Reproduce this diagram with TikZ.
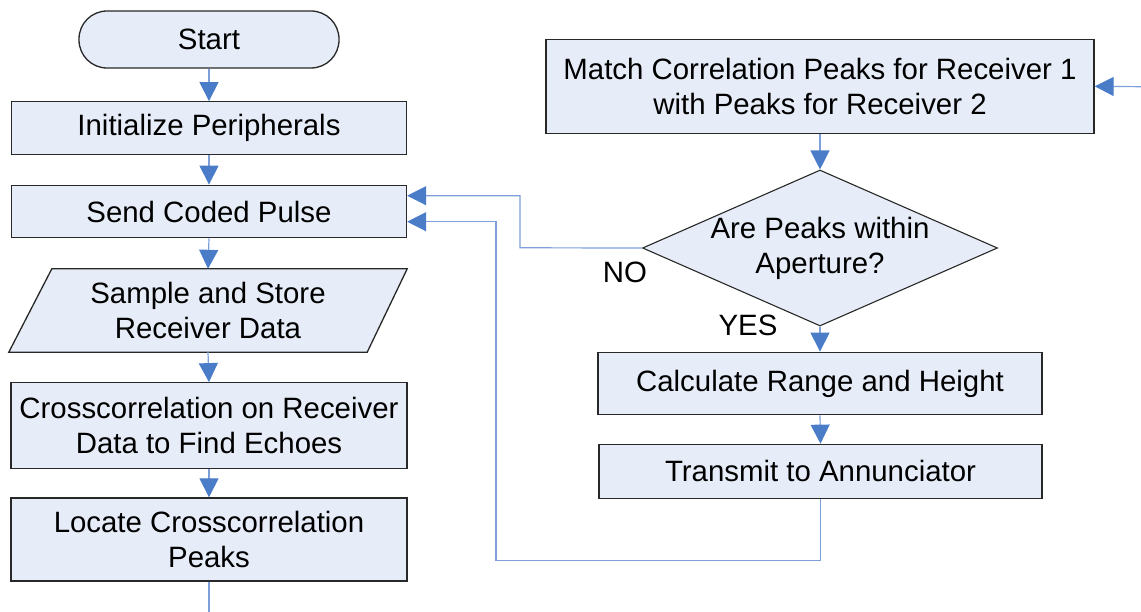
\documentclass[tikz,border=0pt]{standalone}
\usepackage{fontspec}
\setmainfont{Liberation Sans}
\usetikzlibrary{arrows.meta,shapes.geometric,backgrounds}
\definecolor{boxfill}{RGB}{231,237,248}
\definecolor{boxline}{RGB}{40,40,40}
\definecolor{connline}{RGB}{125,160,218}
\definecolor{arrowfill}{RGB}{74,124,200}
\begin{document}
\begin{tikzpicture}[x=1pt,y=-1pt,
  every node/.style={font=\fontsize{29.4}{35}\selectfont},
  procbox/.style={draw=boxline, fill=boxfill, line width=1.3pt, inner sep=0pt, align=center},
  termbox/.style={procbox, rounded corners=28pt},
  iobox/.style={inner sep=0pt, align=center},
  ioshape/.style={draw=boxline, fill=boxfill, line width=1.3pt},
  decbox/.style={draw=boxline, fill=boxfill, line width=1.1pt, diamond, inner sep=0pt},
  conn/.style={draw=connline, line width=1.2pt},
  arr/.style={conn, -{Triangle[length=19pt,width=19pt,color=arrowfill]}},
  lbl/.style={inner sep=0pt, align=center}]
\useasboundingbox (0,0) rectangle (1141,612);
% left column
\node[termbox, minimum width=260pt, minimum height=57pt] (start) at (209,39.5) {Start};
\node[procbox, minimum width=395pt, minimum height=52.5pt] (init) at (209,128) {Initialize Peripherals};
\node[procbox, minimum width=395pt, minimum height=52.5pt] (send) at (209,211.5) {Send Coded Pulse};
\node[iobox, minimum width=398pt, minimum height=83pt] (sample) at (208,310.5) {Sample and Store\\Receiver Data};
\begin{scope}[on background layer]
\draw[ioshape] ([xshift=43pt]sample.north west) -- (sample.north east) -- ([xshift=-40pt]sample.south east) -- (sample.south west) -- cycle;
\end{scope}
\node[procbox, minimum width=396pt, minimum height=85.5pt] (cross) at (209,425.5) {Crosscorrelation on Receiver\\Data to Find Echoes};
\node[procbox, minimum width=396pt, minimum height=83pt] (locate) at (209,539.5) {Locate Crosscorrelation\\Peaks};
% right column
\node[procbox, minimum width=548pt, minimum height=94pt] (match) at (820,86.3) {Match Correlation Peaks for Receiver 1\\with Peaks for Receiver 2};
\node[decbox, minimum width=355pt, minimum height=156pt] (dec) at (820,248) {};
\node[lbl] (dectext) at (dec.center) {Are Peaks within\\Aperture?};
\node[procbox, minimum width=444pt, minimum height=62.5pt] (calc) at (820,383.5) {Calculate Range and Height};
\node[procbox, minimum width=443pt, minimum height=54pt] (trans) at (820.5,471.3) {Transmit to Annunciator};
\node[lbl] (no) at (625,272) {NO};
\node[lbl] (yes) at (748,325) {YES};
% free ends and bends
\coordinate (bot) at (209,612);
\coordinate (rin) at (1141,86.7);
\coordinate (nox) at (520,247.8);
\coordinate (lpx) at (496,560.7);
% connectors
\draw[arr] (start.south) -- (init.north);
\draw[arr] (init.south) -- (send.north);
\draw[arr] (send.south) -- (sample.north);
\draw[arr] (sample.south) -- (cross.north);
\draw[arr] (cross.south) -- (locate.north);
\draw[conn] (locate.south) -- (bot);
\draw[arr] (rin) -- (match.east);
\draw[arr] (match.south) -- (dec.north);
\draw[arr] (dec.south) -- (calc.north);
\draw[arr] (calc.south) -- (trans.north);
\draw[arr] (dec.west) -- (nox) |- ([yshift=15.8pt]send.east);
\draw[arr] (trans.south) |- (lpx) |- ([yshift=-10.2pt]send.east);
\end{tikzpicture}
\end{document}
